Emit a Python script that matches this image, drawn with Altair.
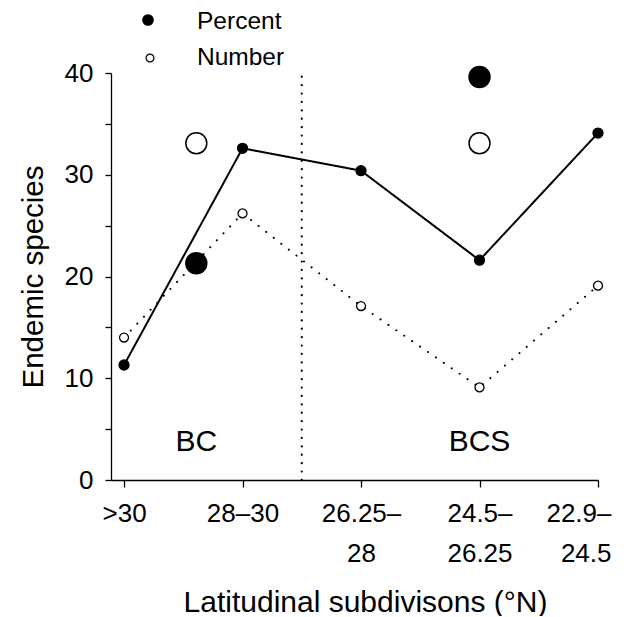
import altair as alt
import pandas as pd

# ---- data ----
categories = [">30", "28–30", "26.25–28", "24.5–26.25", "22.9–24.5"]
tick_lines = [[">30"], ["28–30"], ["26.25–", "28"], ["24.5–", "26.25"], ["22.9–", "24.5"]]
cat_index = [0, 1, 2, 3, 4]
percent = [11.3, 32.6, 30.4, 21.6, 34.1]
number = [14.0, 26.2, 17.1, 9.1, 19.1]
series_names = ["Percent", "Number"]

regions = ["BC", "BCS"]
region_pos = [0.61, 3.0]
region_percent = [21.3, 39.6]
region_number = [33.1, 33.1]
region_label_y = [3.7, 3.7]

divider_pos = [1.5]
y_ticks = [0, 5, 10, 15, 20, 25, 30, 35, 40]

FONT = "Liberation Sans"

# ---- tables ----
series_df = pd.DataFrame({
    "idx": cat_index * 2,
    "category": categories * 2,
    "value": percent + number,
    "series": ["Percent"] * len(percent) + ["Number"] * len(number),
})
region_pts = pd.DataFrame({
    "pos": region_pos * 2,
    "value": region_percent + region_number,
    "series": ["Percent"] * 2 + ["Number"] * 2,
})
region_lbl = pd.DataFrame({"pos": region_pos, "y": region_label_y, "region": regions})
divider_df = pd.DataFrame({"pos": divider_pos, "y0": [0], "y1": [40]})

label_expr = "[" + ",".join(
    "[" + ",".join("'" + s + "'" for s in t) + "]" for t in tick_lines
) + "][datum.value]"

x_scale = alt.Scale(domain=[-0.11, 4], nice=False, zero=False)
y_scale = alt.Scale(domain=[0, 40], nice=False, zero=True)

x_axis = alt.Axis(
    values=cat_index, labelExpr=label_expr, title="Latitudinal subdivisons (°N)",
    tickSize=7, labelPadding=13, labelLineHeight=40, labelBaseline="top",
    labelFlush=True, labelFlushOffset=13,
    titleY=107, titleX=254, titleBaseline="top", titleFontSize=30,
)
y_axis = alt.Axis(
    values=y_ticks, labelExpr="datum.value % 10 == 0 ? datum.label : ''",
    title="Endemic species", tickSize=6, labelPadding=12,
    titleAngle=-90, titleBaseline="middle", titleX=-78, titleAlign="center",
)

fill_scale = alt.Scale(domain=series_names, range=["black", "white"])
size_scale = alt.Scale(domain=series_names, range=[100, 80])

divider = alt.Chart(divider_df).mark_rule(
    color="black", strokeWidth=2.2, strokeDash=[0.1, 8.3], strokeCap="round"
).encode(
    x=alt.X("pos:Q", scale=x_scale, axis=x_axis),
    y=alt.Y("y0:Q", scale=y_scale, axis=y_axis),
    y2="y1:Q",
)

lines = alt.Chart(series_df).mark_line(color="black", strokeWidth=2, strokeCap="round").encode(
    x=alt.X("idx:Q", scale=x_scale, axis=x_axis),
    y=alt.Y("value:Q", scale=y_scale, axis=y_axis),
    strokeDash=alt.StrokeDash("series:N", scale=alt.Scale(domain=series_names, range=[[1, 0], [0.1, 9.5]]), legend=None),
    detail="series:N",
)

points = alt.Chart(series_df).mark_point(
    filled=True, shape="circle", stroke="black", strokeWidth=1.3, opacity=1
).encode(
    x=alt.X("idx:Q", scale=x_scale, axis=x_axis),
    y=alt.Y("value:Q", scale=y_scale, axis=y_axis),
    fill=alt.Fill("series:N", scale=fill_scale, legend=None),
    size=alt.Size("series:N", scale=size_scale, legend=None),
)

big = alt.Chart(region_pts).mark_point(
    filled=True, shape="circle", stroke="black", strokeWidth=1.5, size=440, opacity=1
).encode(
    x=alt.X("pos:Q", scale=x_scale, axis=x_axis),
    y=alt.Y("value:Q", scale=y_scale, axis=y_axis),
    fill=alt.Fill("series:N", scale=fill_scale, legend=None),
)

texts = alt.Chart(region_lbl).mark_text(font=FONT, fontSize=30, color="black").encode(
    x=alt.X("pos:Q", scale=x_scale, axis=x_axis),
    y=alt.Y("y:Q", scale=y_scale, axis=y_axis),
    text="region:N",
)

# ---- legend drawn above the plot (pixel offsets from the plot's top-left) ----
legend_sym_x = [37, 39]
legend_sym_y = [-53, -15]
legend_text_y = [-51.5, -15]
legend_sym_size = [110, 62]
legend_fill = ["black", "white"]
legend_layers = []
for i, name in enumerate(series_names):
    one = pd.DataFrame({"series": [name]})
    legend_layers.append(
        alt.Chart(one).mark_point(
            filled=True, shape="circle", stroke="black", strokeWidth=1.2,
            fill=legend_fill[i], size=legend_sym_size[i], opacity=1,
        ).encode(x=alt.value(legend_sym_x[i]), y=alt.value(legend_sym_y[i]))
    )
    legend_layers.append(
        alt.Chart(one).mark_text(
            font=FONT, fontSize=24.5, color="black", align="left", baseline="middle",
        ).encode(x=alt.value(86), y=alt.value(legend_text_y[i]), text="series:N")
    )

chart = alt.layer(divider, lines, big, points, texts, *legend_layers).properties(
    width=487, height=407,
    padding={"left": 103, "top": 65, "right": 20, "bottom": 136},
    autosize=alt.AutoSizeParams(type="none"),
).configure_view(strokeWidth=0).configure_axis(
    grid=False, domainColor="black", tickColor="black", labelColor="black",
    titleColor="black", labelFont=FONT, titleFont=FONT, labelFontSize=26,
    titleFontSize=29.5, titleFontWeight="normal", domainWidth=1.3, tickWidth=1.3,
)

chart.save("out.html", embed_options={"renderer": "svg", "actions": False})
